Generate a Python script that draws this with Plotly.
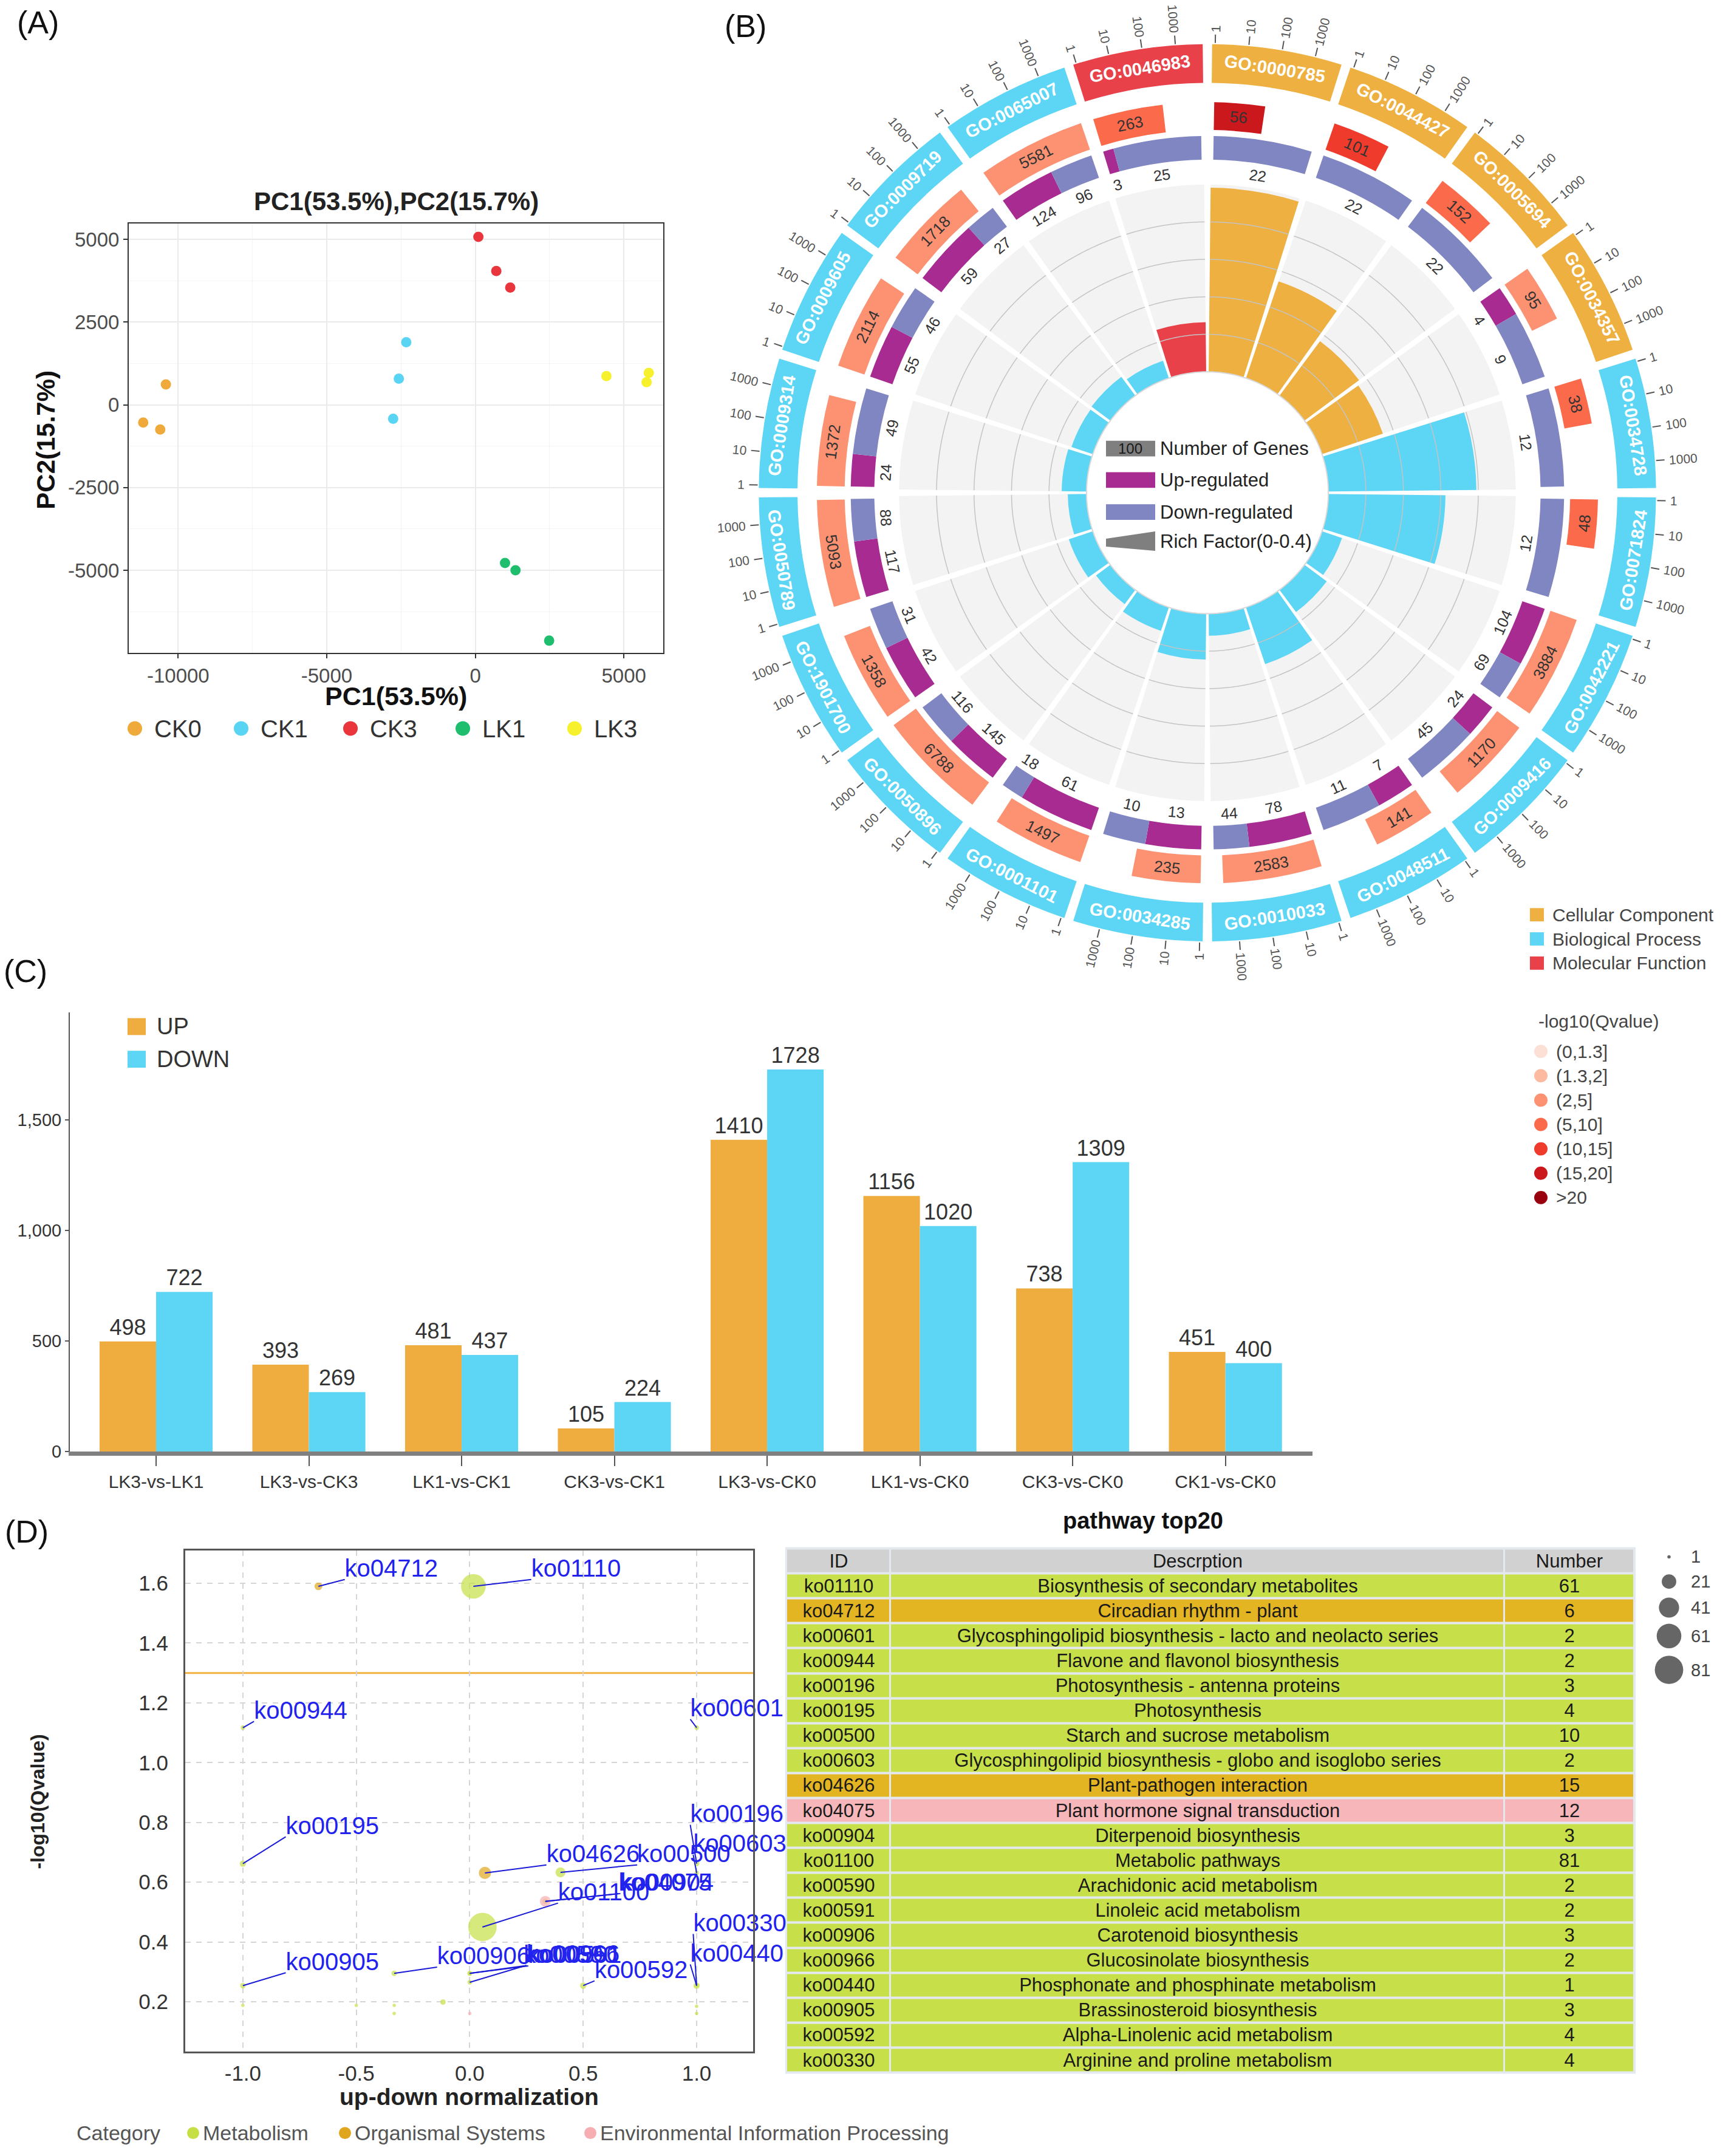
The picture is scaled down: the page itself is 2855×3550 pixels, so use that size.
import math
import plotly.graph_objects as go

W, H = 2855, 3550
FONT = "Liberation Sans, Arial, Helvetica, sans-serif"

# ======================= DATA =======================
# (A) PCA scores
pca_groups = ["CK0", "CK1", "CK3", "LK1", "LK3"]
pca_colors = ["#F0AA3C", "#5AD4F3", "#E8363C", "#1FBE6F", "#F6F12C"]
pc1_ck0 = [-11176, -10412, -10603]
pc2_ck0 = [-535, 616, -744]
pc1_ck1 = [-2324, -2574, -2765]
pc2_ck1 = [1895, 791, -419]
pc1_ck3 = [103, 706, 1176]
pc2_ck3 = [5081, 4047, 3547]
pc1_lk1 = [1000, 1353, 2485]
pc2_lk1 = [-4779, -5000, -7128]
pc1_lk3 = [4412, 5838, 5765]
pc2_lk3 = [872, 965, 686]
pc1_tickvals = [-10000, -5000, 0, 5000]
pc1_ticktext = ["-10000", "-5000", "0", "5000"]
pc2_tickvals = [-5000, -2500, 0, 2500, 5000]
pc2_ticktext = ["-5000", "-2500", "0", "2500", "5000"]

# (B) GO enrichment circle
go_terms = ["GO:0000785", "GO:0044427", "GO:0005694", "GO:0034357", "GO:0034728",
            "GO:0071824", "GO:0042221", "GO:0009416", "GO:0048511", "GO:0010033",
            "GO:0034285", "GO:0001101", "GO:0050896", "GO:1901700", "GO:0050789",
            "GO:0009314", "GO:0009605", "GO:0009719", "GO:0065007", "GO:0046983"]
go_class = ["Cellular Component"] * 4 + ["Biological Process"] * 15 + ["Molecular Function"]
go_number = [56, 101, 152, 95, 38, 48, 3884, 1170, 141, 2583,
             235, 1497, 6788, 1358, 5093, 1372, 2114, 1718, 5581, 263]
go_up = [0, 0, 0, 4, 0, 0, 104, 24, 7, 78, 13, 61, 145, 42, 117, 24, 55, 59, 124, 3]
go_down = [22, 22, 22, 9, 12, 12, 69, 45, 11, 44, 10, 18, 116, 31, 88, 49, 46, 27, 96, 25]
go_rich = [0.393, 0.218, 0.145, 0.137, 0.316, 0.250, 0.045, 0.059, 0.128, 0.047,
           0.098, 0.053, 0.038, 0.054, 0.040, 0.053, 0.048, 0.050, 0.039, 0.106]
go_qbin = ["(15,20]", "(10,15]", "(5,10]", "(2,5]", "(5,10]", "(5,10]", "(2,5]", "(2,5]",
           "(2,5]", "(2,5]", "(2,5]", "(2,5]", "(2,5]", "(2,5]", "(2,5]", "(2,5]",
           "(2,5]", "(2,5]", "(2,5]", "(5,10]"]
class_names = ["Cellular Component", "Biological Process", "Molecular Function"]
class_colors = ["#EEB041", "#5DD5F4", "#E9414A"]
qbin_labels = ["(0,1.3]", "(1.3,2]", "(2,5]", "(5,10]", "(10,15]", "(15,20]", ">20"]
qbin_colors = ["#FCE0D5", "#FCBBA1", "#FC9272", "#FB6A4A", "#EF3B2C", "#CB181D", "#99000D"]
log_ticks = [1, 10, 100, 1000]
log_ticktext = ["1", "10", "100", "1000"]

# (C) DEG counts
deg_comparisons = ["LK3-vs-LK1", "LK3-vs-CK3", "LK1-vs-CK1", "CK3-vs-CK1",
                   "LK3-vs-CK0", "LK1-vs-CK0", "CK3-vs-CK0", "CK1-vs-CK0"]
deg_up = [498, 393, 481, 105, 1410, 1156, 738, 451]
deg_down = [722, 269, 437, 224, 1728, 1020, 1309, 400]
deg_tickvals = [0, 500, 1000, 1500]
deg_ticktext = ["0", "500", "1,000", "1,500"]

# (D) KEGG pathway top20
kegg_ids = ["ko01110", "ko04712", "ko00601", "ko00944", "ko00196", "ko00195", "ko00500",
            "ko00603", "ko04626", "ko04075", "ko00904", "ko01100", "ko00590", "ko00591",
            "ko00906", "ko00966", "ko00440", "ko00905", "ko00592", "ko00330"]
kegg_desc = ["Biosynthesis of secondary metabolites", "Circadian rhythm - plant",
             "Glycosphingolipid biosynthesis - lacto and neolacto series",
             "Flavone and flavonol biosynthesis", "Photosynthesis - antenna proteins",
             "Photosynthesis", "Starch and sucrose metabolism",
             "Glycosphingolipid biosynthesis - globo and isoglobo series",
             "Plant-pathogen interaction", "Plant hormone signal transduction",
             "Diterpenoid biosynthesis", "Metabolic pathways", "Arachidonic acid metabolism",
             "Linoleic acid metabolism", "Carotenoid biosynthesis", "Glucosinolate biosynthesis",
             "Phosphonate and phosphinate metabolism", "Brassinosteroid biosynthesis",
             "Alpha-Linolenic acid metabolism", "Arginine and proline metabolism"]
kegg_number = [61, 6, 2, 2, 3, 4, 10, 2, 15, 12, 3, 81, 2, 2, 3, 2, 1, 3, 4, 4]
kegg_category = ["Metabolism", "Organismal Systems", "Metabolism", "Metabolism", "Metabolism",
                 "Metabolism", "Metabolism", "Metabolism", "Organismal Systems",
                 "Environmental Information Processing", "Metabolism", "Metabolism",
                 "Metabolism", "Metabolism", "Metabolism", "Metabolism", "Metabolism",
                 "Metabolism", "Metabolism", "Metabolism"]
kegg_norm = [0.016, -0.667, 1.0, -1.0, 1.0, -1.0, 0.4, 1.0, 0.067, 0.333,
             0.333, 0.056, 0.0, 0.0, -0.333, 0.0, 1.0, -1.0, 0.5, 1.0]
kegg_qlog = [1.59, 1.59, 1.117, 1.117, 0.662, 0.662, 0.633, 0.631, 0.631, 0.536,
             0.536, 0.45, 0.295, 0.295, 0.295, 0.265, 0.254, 0.254, 0.254, 0.254]
extra_norm = [-1.0, -0.5, -0.333, -0.333, -0.118, 0.0, 1.0, 1.0]
extra_qlog = [0.188, 0.188, 0.188, 0.161, 0.199, 0.161, 0.185, 0.161]
extra_number = [1, 1, 1, 1, 3, 1, 1, 1]
extra_category = ["Metabolism", "Metabolism", "Metabolism", "Metabolism", "Metabolism",
                  "Environmental Information Processing", "Metabolism", "Metabolism"]
cat_names = ["Metabolism", "Organismal Systems", "Environmental Information Processing"]
cat_point_colors = ["#C5DF45", "#E0A61E", "#F6AEB3"]
cat_row_colors = ["#C7E04A", "#E3B523", "#F7B6B9"]
q_threshold = 1.3
size_legend_values = [1, 21, 41, 61, 81]
norm_tickvals = [-1.0, -0.5, 0.0, 0.5, 1.0]
norm_ticktext = ["-1.0", "-0.5", "0.0", "0.5", "1.0"]
qlog_tickvals = [0.2, 0.4, 0.6, 0.8, 1.0, 1.2, 1.4, 1.6]
qlog_ticktext = ["0.2", "0.4", "0.6", "0.8", "1.0", "1.2", "1.4", "1.6"]
table_header = ["ID", "Descrption", "Number"]

# label placement (layout) for repelled labels in (D)
kegg_label_x = [0.271, -0.551, 0.972, -0.951, 0.972, -0.811, 0.738, 0.985, 0.338, 0.656,
                0.664, 0.389, 0.238, 0.258, -0.144, 0.25, 0.972, -0.811, 0.55, 0.985]
kegg_label_y = [1.643, 1.643, 1.175, 1.168, 0.822, 0.782, 0.688, 0.722, 0.688, 0.592,
                0.592, 0.560, 0.350, 0.350, 0.346, 0.352, 0.355, 0.327, 0.300, 0.457]

# ======================= HELPERS =======================
fig = go.Figure()
shapes, annots = [], []


def fx(p):
    return p / W


def fy(p):
    return 1.0 - p / H


def add_text(x, y, text, size, color="#222222", bold=False, xanchor="center",
             yanchor="middle", angle=0):
    annots.append(dict(xref="paper", yref="paper", x=fx(x), y=fy(y),
                       text=("<b>%s</b>" % text) if bold else text, showarrow=False,
                       xanchor=xanchor, yanchor=yanchor, textangle=angle,
                       font=dict(family=FONT, size=size, color=color)))


def add_rect(x0, y0, x1, y1, color, layer="above"):
    shapes.append(dict(type="rect", xref="paper", yref="paper", x0=fx(x0), x1=fx(x1),
                       y0=fy(y1), y1=fy(y0), fillcolor=color, line=dict(width=0), layer=layer))


def add_circle(cx, cy, d, color):
    shapes.append(dict(type="circle", xref="paper", yref="paper", x0=fx(cx - d / 2),
                       x1=fx(cx + d / 2), y0=fy(cy + d / 2), y1=fy(cy - d / 2),
                       fillcolor=color, line=dict(width=0), layer="above"))


def bubble_px(n):
    return max(5.5, 5.2 * math.sqrt(n))


# ======================= PANEL A =======================
A_L, A_R, A_T, A_B = 212, 1092, 370, 1080
pca_x = [pc1_ck0, pc1_ck1, pc1_ck3, pc1_lk1, pc1_lk3]
pca_y = [pc2_ck0, pc2_ck1, pc2_ck3, pc2_lk1, pc2_lk3]
for g, xs, ys, c in zip(pca_groups, pca_x, pca_y, pca_colors):
    fig.add_trace(go.Scatter(x=xs, y=ys, mode="markers", name=g, hoverinfo="skip",
                             marker=dict(size=17, color=c, line=dict(width=0)),
                             xaxis="x", yaxis="y"))

add_text(62, 37, "(A)", 52, "#111111")
add_text((A_L + A_R) / 2, 333, "PC1(53.5%),PC2(15.7%)", 42, "#222222", bold=True)
add_text((A_L + A_R) / 2, 1151, "PC1(53.5%)", 43, "#111111", bold=True)
add_text(76, 728, "PC2(15.7%)", 42, "#111111", bold=True, angle=-90)
leg_a_marker_x = [222, 397, 577, 762, 946]
for g, c, mx in zip(pca_groups, pca_colors, leg_a_marker_x):
    add_circle(mx, 1205, 24, c)
    add_text(mx + 30, 1205, g, 40, "#333333", xanchor="left")

# ======================= PANEL B =======================
B_CX, B_CY, R_DOM = 1988, 815, 780
SECT = 18.0
R_IN, R_BG = 200, 510
R_UD = (551, 590)
R_Q = (600, 646)
R_GO = (678, 742)
R_TICK = (744, 758)
LOG_DEG = 4.3
PAD_DEG = 1.0
RICH_MAX = 0.4
nsec = len(go_terms)
theta_c = [i * SECT + SECT / 2 for i in range(nsec)]
sec_w = [SECT - 1.2] * nsec


def pol(r, th):
    t = math.radians(th)
    return B_CX + r * math.sin(t), B_CY - r * math.cos(t)


def tang_angle(th):
    th = th % 360
    if th <= 90:
        return th
    if th < 270:
        return th - 180
    return th - 360


def radial_angle(th):
    th = th % 360
    return th - 90 if th < 180 else th - 270


common_bp = dict(subplot="polar", hoverinfo="skip", showlegend=False)
# gray background sectors
fig.add_trace(go.Barpolar(theta=theta_c, width=sec_w, base=[R_IN] * nsec,
                          r=[R_BG - R_IN] * nsec, marker=dict(color="#F3F3F3", line=dict(width=0)),
                          **common_bp))
# grid arcs
grid_r, grid_t = [], []
for k in range(1, 5):
    rr = R_IN + k * (R_BG - R_IN) / 5
    for i in range(nsec):
        a0 = i * SECT + 0.6
        a1 = (i + 1) * SECT - 0.6
        n = 30
        for j in range(n + 1):
            grid_r.append(rr)
            grid_t.append(a0 + (a1 - a0) * j / n)
        grid_r.append(None)
        grid_t.append(None)
fig.add_trace(go.Scatterpolar(r=grid_r, theta=grid_t, mode="lines",
                              line=dict(color="#C4C4C4", width=1.5), **common_bp))
# rich factor bars
rich_colors = [class_colors[class_names.index(c)] for c in go_class]
fig.add_trace(go.Barpolar(theta=theta_c, width=sec_w, base=[R_IN] * nsec,
                          r=[rf / RICH_MAX * (R_BG - R_IN) for rf in go_rich],
                          marker=dict(color=rich_colors, line=dict(width=0)), **common_bp))
# inner circle outline
fig.add_trace(go.Scatterpolar(r=[R_IN] * 361, theta=list(range(361)), mode="lines",
                              line=dict(color="#D8D8D8", width=2), **common_bp))
# up / down ring
ud_span = SECT - 2 * PAD_DEG
up_t, up_w, dn_t, dn_w = [], [], [], []
for i, (u, d) in enumerate(zip(go_up, go_down)):
    s0 = i * SECT + PAD_DEG
    wu = ud_span * u / (u + d)
    wd = ud_span * d / (u + d)
    up_t.append(s0 + wu / 2)
    up_w.append(wu)
    dn_t.append(s0 + wu + wd / 2)
    dn_w.append(wd)
fig.add_trace(go.Barpolar(theta=up_t, width=up_w, base=[R_UD[0]] * nsec,
                          r=[R_UD[1] - R_UD[0]] * nsec,
                          marker=dict(color="#A82B91", line=dict(width=0)), **common_bp))
fig.add_trace(go.Barpolar(theta=dn_t, width=dn_w, base=[R_UD[0]] * nsec,
                          r=[R_UD[1] - R_UD[0]] * nsec,
                          marker=dict(color="#7F86C1", line=dict(width=0)), **common_bp))
# q-value / gene number ring
q_w = [math.log10(n) * LOG_DEG for n in go_number]
q_t = [i * SECT + PAD_DEG + w / 2 for i, w in enumerate(q_w)]
q_col = [qbin_colors[qbin_labels.index(b)] for b in go_qbin]
fig.add_trace(go.Barpolar(theta=q_t, width=q_w, base=[R_Q[0]] * nsec,
                          r=[R_Q[1] - R_Q[0]] * nsec,
                          marker=dict(color=q_col, line=dict(width=0)), **common_bp))
# GO id ring
fig.add_trace(go.Barpolar(theta=theta_c, width=sec_w, base=[R_GO[0]] * nsec,
                          r=[R_GO[1] - R_GO[0]] * nsec,
                          marker=dict(color=rich_colors, line=dict(width=0)), **common_bp))
# log ticks
tick_r, tick_t = [], []
for i in range(nsec):
    for v in log_ticks:
        th = i * SECT + PAD_DEG + math.log10(v) * LOG_DEG
        tick_r += [R_TICK[0], R_TICK[1], None]
        tick_t += [th, th, None]
fig.add_trace(go.Scatterpolar(r=tick_r, theta=tick_t, mode="lines",
                              line=dict(color="#555555", width=2), **common_bp))

# texts for panel B
TICK_FS = 21
for i in range(nsec):
    for v, txt in zip(log_ticks, log_ticktext):
        th = i * SECT + PAD_DEG + math.log10(v) * LOG_DEG
        w = len(txt) * 0.56 * TICK_FS
        x, y = pol(R_TICK[1] + 4 + w / 2, th)
        add_text(x, y, txt, TICK_FS, "#555555", angle=radial_angle(th))
for i, term in enumerate(go_terms):
    x, y = pol((R_GO[0] + R_GO[1]) / 2, theta_c[i])
    add_text(x, y, term, 29, "#FFFFFF", bold=True, angle=tang_angle(theta_c[i]))
    x, y = pol((R_Q[0] + R_Q[1]) / 2, q_t[i])
    add_text(x, y, str(go_number[i]), 26, "#333333", angle=tang_angle(q_t[i]))
    if go_up[i] > 0:
        x, y = pol(531, up_t[i])
        add_text(x, y, str(go_up[i]), 25, "#333333", angle=tang_angle(up_t[i]))
    if go_down[i] > 0:
        x, y = pol(531, dn_t[i])
        add_text(x, y, str(go_down[i]), 25, "#333333", angle=tang_angle(dn_t[i]))

add_text(1227, 43, "(B)", 52, "#111111")
# centre legend
leg_rows = [742, 794, 847, 896]
leg_txt = ["Number of Genes", "Up-regulated", "Down-regulated", "Rich Factor(0-0.4)"]
add_rect(1821, leg_rows[0] - 13, 1902, leg_rows[0] + 13, "#7F7F7F")
add_text(1861, leg_rows[0], "100", 24, "#1A1A1A")
add_rect(1821, leg_rows[1] - 13, 1902, leg_rows[1] + 13, "#A82B91")
add_rect(1821, leg_rows[2] - 13, 1902, leg_rows[2] + 13, "#7F86C1")
shapes.append(dict(type="path", xref="paper", yref="paper",
                   path="M %f,%f L %f,%f L %f,%f L %f,%f Z" % (
                       fx(1821), fy(891), fx(1902), fy(879), fx(1902), fy(911), fx(1821), fy(904)),
                   fillcolor="#7F7F7F", line=dict(width=0)))
for yy, t in zip(leg_rows, leg_txt):
    add_text(1908, yy, t, 31, "#222222", xanchor="left")
# category legend
for k, (nm, col) in enumerate(zip(class_names, class_colors)):
    yy = 1513 + 40 * k
    add_rect(2519, yy - 11, 2542, yy + 11, col)
    add_text(2554, yy, nm, 30, "#444444", xanchor="left")
# q legend
add_text(2531, 1689, "-log10(Qvalue)", 30, "#444444", xanchor="left")
for k, (lb, col) in enumerate(zip(qbin_labels, qbin_colors)):
    yy = 1739 + 40.3 * k
    add_circle(2537, yy, 22, col)
    add_text(2560, yy, lb, 30, "#444444", xanchor="left")

# ======================= PANEL C =======================
C_L, C_R, C_T, C_B = 115, 2161, 1675, 2401
fig.add_trace(go.Bar(x=deg_comparisons, y=deg_up, name="UP", marker=dict(color="#EFAD3F", line=dict(width=0)),
                     text=deg_up, textposition="outside", constraintext="none", cliponaxis=False,
                     textfont=dict(size=36, color="#333333", family=FONT), hoverinfo="skip",
                     xaxis="x2", yaxis="y2"))
fig.add_trace(go.Bar(x=deg_comparisons, y=deg_down, name="DOWN", marker=dict(color="#5DD6F5", line=dict(width=0)),
                     text=deg_down, textposition="outside", constraintext="none", cliponaxis=False,
                     textfont=dict(size=36, color="#333333", family=FONT), hoverinfo="skip",
                     xaxis="x2", yaxis="y2"))
add_text(42, 1606, "(C)", 52, "#111111")
add_rect(210, 1684, 240, 1712, "#EFAD3F")
add_text(256, 1698, "UP", 38, "#333333", xanchor="left")
add_rect(210, 1738, 240, 1766, "#5DD6F5")
add_text(256, 1752, "DOWN", 38, "#333333", xanchor="left")

# ======================= PANEL D =======================
D_L, D_R, D_T, D_B = 305, 1240, 2565, 3393
shapes.append(dict(type="line", xref="x3 domain", yref="y3", x0=0, x1=1, y0=q_threshold,
                   y1=q_threshold, line=dict(color="#F5B041", width=3), layer="below"))
for ci, cname in enumerate(cat_names):
    idx = [i for i, c in enumerate(extra_category) if c == cname]
    if idx:
        fig.add_trace(go.Scatter(x=[extra_norm[i] for i in idx], y=[extra_qlog[i] for i in idx],
                                 mode="markers", hoverinfo="skip",
                                 marker=dict(color=cat_point_colors[ci], line=dict(width=0),
                                             size=[bubble_px(extra_number[i]) for i in idx]),
                                 xaxis="x3", yaxis="y3"))
for ci, cname in enumerate(cat_names):
    idx = [i for i, c in enumerate(kegg_category) if c == cname]
    fig.add_trace(go.Scatter(x=[kegg_norm[i] for i in idx], y=[kegg_qlog[i] for i in idx],
                             mode="markers", name=cname, hoverinfo="skip",
                             marker=dict(color=cat_point_colors[ci], line=dict(width=0),
                                         size=[bubble_px(kegg_number[i]) for i in idx]),
                             xaxis="x3", yaxis="y3"))
line_x, line_y = [], []
for x0, y0, lx, ly in zip(kegg_norm, kegg_qlog, kegg_label_x, kegg_label_y):
    line_x += [x0, lx, None]
    line_y += [y0, ly - 0.03, None]
fig.add_trace(go.Scatter(x=line_x, y=line_y, mode="lines", hoverinfo="skip",
                         line=dict(color="#1A1AD8", width=2), xaxis="x3", yaxis="y3"))
fig.add_trace(go.Scatter(x=kegg_label_x, y=kegg_label_y, mode="text", text=kegg_ids,
                         textposition="middle right", cliponaxis=False, hoverinfo="skip",
                         textfont=dict(size=40, color="#2222EE", family=FONT),
                         xaxis="x3", yaxis="y3"))
add_text(44, 2533, "(D)", 52, "#111111")
add_text(62, 2980, "-log10(Qvalue)", 32, "#222222", bold=True, angle=-90)
add_text((D_L + D_R) / 2, 3468, "up-down normalization", 39, "#222222", bold=True)
add_text(1882, 2515, "pathway top20", 38, "#111111", bold=True)
# category legend (D)
add_text(124, 3528, "Category", 34, "#555555", xanchor="left")
for nm, col, mx in zip(cat_names, cat_point_colors, [318, 568, 972]):
    add_circle(mx, 3528, 20, col)
    add_text(mx + 14, 3528, nm, 34, "#555555", xanchor="left")
# size legend
for k, v in enumerate(size_legend_values):
    yy = [2575, 2616, 2659, 2706, 2762][k]
    add_circle(2748, yy, bubble_px(v), "#666666")
    add_text(2782, yy, str(v), 29, "#444444", xanchor="left")

# table drawn as a heatmap grid
T_L, T_R, T_T, T_B = 1295, 2691, 2561, 3428
col_edges = [0, 171, 1182, 1396]
cat_code = {n: k + 1 for k, n in enumerate(cat_names)}
z_rows = [[0, 0, 0]] + [[cat_code[c]] * 3 for c in kegg_category]
t_rows = [table_header] + [[i, d, str(n)] for i, d, n in zip(kegg_ids, kegg_desc, kegg_number)]
cs = [[0.0, "#D1D1D1"], [0.25, "#D1D1D1"], [0.25, cat_row_colors[0]], [0.5, cat_row_colors[0]],
      [0.5, cat_row_colors[1]], [0.75, cat_row_colors[1]], [0.75, cat_row_colors[2]], [1.0, cat_row_colors[2]]]
add_rect(T_L - 2, T_T - 2, T_R + 2, T_B + 2, "#E3E9EE", layer="below")
fig.add_trace(go.Heatmap(z=z_rows, x=col_edges, y=list(range(len(z_rows) + 1)), text=t_rows,
                         texttemplate="%{text}", textfont=dict(size=31, color="#1A1A1A", family=FONT),
                         colorscale=cs, zmin=-0.5, zmax=3.5, showscale=False, xgap=3, ygap=4,
                         hoverinfo="skip", xaxis="x4", yaxis="y4"))

# ======================= LAYOUT =======================
fig.update_layout(
    width=W, height=H, margin=dict(l=0, r=0, t=0, b=0),
    paper_bgcolor="white", plot_bgcolor="white", showlegend=False,
    font=dict(family=FONT), barmode="group", bargap=0.26, bargroupgap=0.0,
    shapes=shapes, annotations=annots,
    xaxis=dict(domain=[fx(A_L), fx(A_R)], anchor="y", range=[-11662, 6324],
               tickvals=pc1_tickvals, ticktext=pc1_ticktext, showgrid=True, gridcolor="#EBEBEB",
               gridwidth=2, minor=dict(dtick=2500, tick0=0, showgrid=True, gridcolor="#F4F4F4", gridwidth=1),
               zeroline=False, showline=True, mirror=True, linecolor="#333333", linewidth=2,
               ticks="outside", ticklen=7, tickwidth=2, tickcolor="#333333",
               tickfont=dict(size=33, color="#4D4D4D", family=FONT)),
    yaxis=dict(domain=[fy(A_B), fy(A_T)], anchor="x", range=[-7500, 5477],
               tickvals=pc2_tickvals, ticktext=pc2_ticktext, showgrid=True, gridcolor="#EBEBEB",
               gridwidth=2, minor=dict(dtick=1250, tick0=0, showgrid=True, gridcolor="#F4F4F4", gridwidth=1),
               zeroline=False, showline=True, mirror=True, linecolor="#333333", linewidth=2,
               ticks="outside", ticklen=7, tickwidth=2, tickcolor="#333333",
               tickfont=dict(size=33, color="#4D4D4D", family=FONT)),
    polar=dict(domain=dict(x=[fx(B_CX - R_DOM), fx(B_CX + R_DOM)], y=[fy(B_CY + R_DOM), fy(B_CY - R_DOM)]),
               bgcolor="rgba(0,0,0,0)", barmode="overlay", hole=0,
               radialaxis=dict(range=[0, R_DOM], visible=False),
               angularaxis=dict(rotation=90, direction="clockwise", visible=False, thetaunit="degrees")),
    xaxis2=dict(domain=[fx(C_L), fx(C_R)], anchor="y2", type="category", range=[-0.5646, 7.570],
                showline=True, linecolor="#808080", linewidth=7, ticks="outside", ticklen=17,
                tickwidth=2, tickcolor="#555555", showgrid=False, zeroline=False,
                tickfont=dict(size=30, color="#333333", family=FONT)),
    yaxis2=dict(domain=[fy(C_B), fy(C_T)], anchor="x2", range=[0, 1985], tickvals=deg_tickvals,
                ticktext=deg_ticktext, showline=True, linecolor="#555555", linewidth=2,
                ticks="outside", ticklen=6, tickwidth=2, tickcolor="#555555", showgrid=False,
                zeroline=False, tickfont=dict(size=29, color="#333333", family=FONT)),
    xaxis3=dict(domain=[fx(D_L), fx(D_R)], anchor="y3", range=[-1.254, 1.249],
                tickvals=norm_tickvals, ticktext=norm_ticktext, showgrid=True, gridcolor="#D5D5D5",
                griddash="dash", gridwidth=2, zeroline=False, showline=True, mirror=True,
                linecolor="#555555", linewidth=3, ticks="", ticklabelstandoff=3,
                tickfont=dict(size=35, color="#333333", family=FONT)),
    yaxis3=dict(domain=[fy(D_B), fy(D_T)], anchor="x3", range=[0.034, 1.709],
                tickvals=qlog_tickvals, ticktext=qlog_ticktext, showgrid=True, gridcolor="#D5D5D5",
                griddash="dash", gridwidth=2, zeroline=False, showline=True, mirror=True,
                linecolor="#555555", linewidth=3, ticks="", ticklabelstandoff=18,
                tickfont=dict(size=35, color="#333333", family=FONT)),
    xaxis4=dict(domain=[fx(T_L), fx(T_R)], anchor="y4", range=[0, col_edges[-1]], visible=False),
    yaxis4=dict(domain=[fy(T_B), fy(T_T)], anchor="x4", range=[len(z_rows), 0], visible=False),
)

fig.write_html("out.html", config={"displayModeBar": False},
               post_script="document.body.style.margin='0';")
